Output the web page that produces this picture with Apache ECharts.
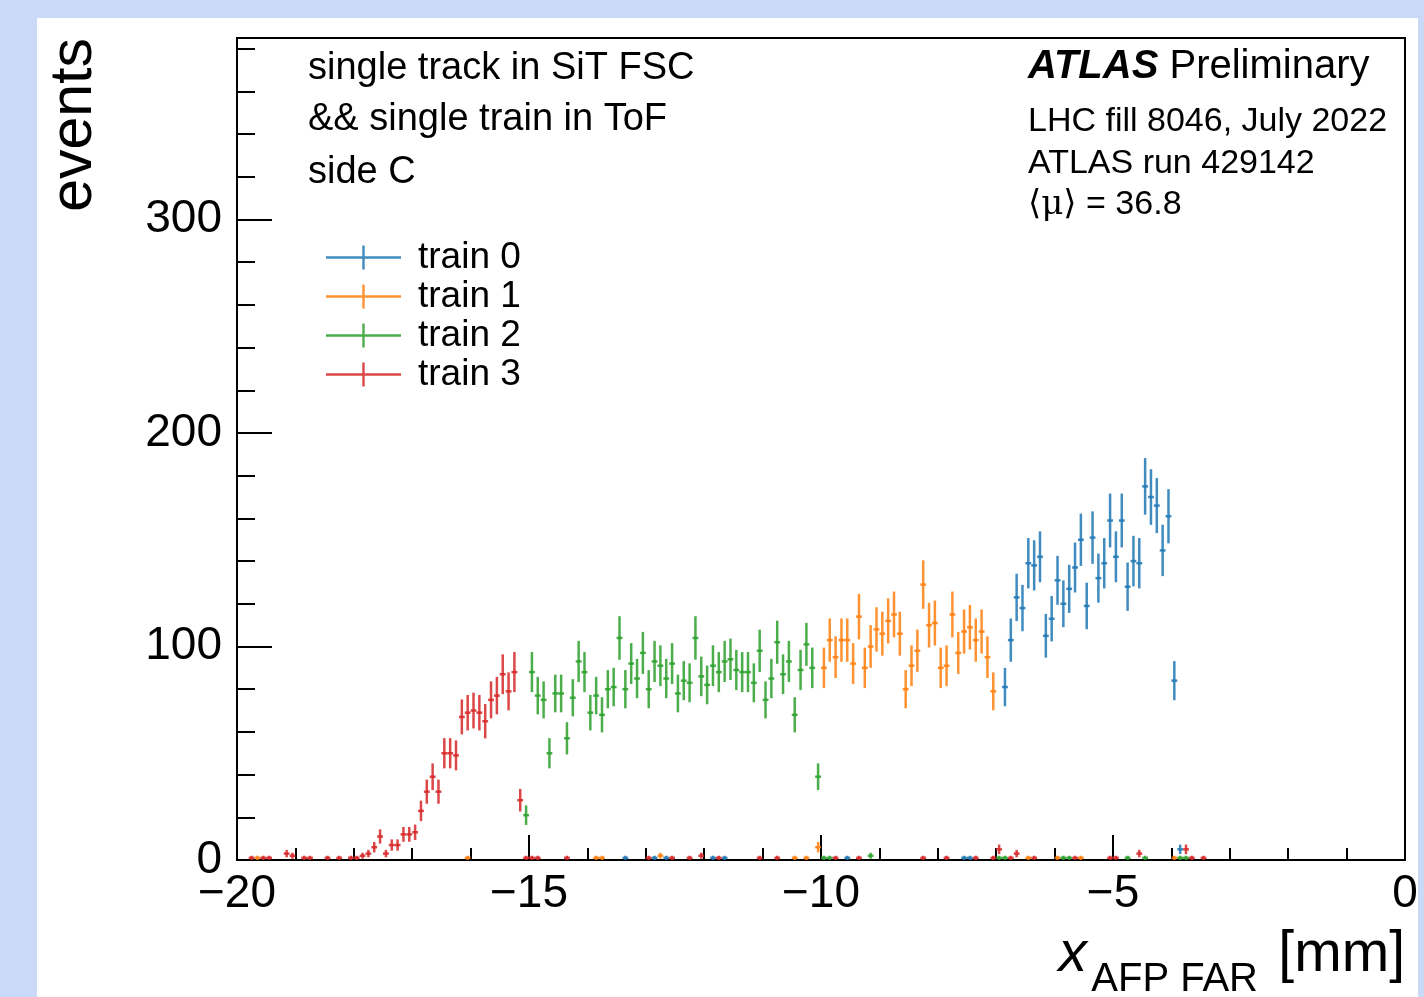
<!DOCTYPE html>
<html>
<head>
<meta charset="utf-8">
<title>AFP ToF trains, side C</title>
<script src="https://cdn.jsdelivr.net/npm/echarts@6/dist/echarts.min.js"></script>
<style>
  html, body { margin: 0; padding: 0; background: #c9d9f7; }
  #chart { position: absolute; left: 37px; top: 18px; width: 1381px; height: 979px; background: #fff; }
</style>
</head>
<body>
<div id="chart"></div>
<script>
// histogram binning of x_AFP FAR
const xMin = -20;
const binWidth = 0.1;

// main run of filled bins per train: index of first bin, then counts
const train0Start = 131;
const train0Counts = [81, 103, 123, 118, 139, 138, 142, 105, 113, 131, 120, 127, 137, 150, 119,
  151, 132, 139, 159, 142, 159, 128, 140, 139, 175, 170, 166, 145, 161, 84];
const train1Start = 100;
const train1Counts = [90, 103, 95, 103, 103, 92, 114, 90, 100, 108, 106, 112, 115, 106, 80,
  91, 98, 129, 110, 111, 90, 91, 115, 97, 107, 109, 103, 107, 95, 79];
const train2Start = 49;
const train2Counts = [21, 88, 77, 75, 50, 78, 78, 57, 76, 93, 88, 69, 77, 68, 80, 81, 104,
  80, 92, 85, 97, 80, 93, 91, 85, 92, 78, 84, 83, 104, 86, 82, 91, 88, 93, 94, 89, 88, 88,
  83, 98, 75, 85, 102, 87, 93, 68, 89, 101, 90, 39];
const train3Start = 21;
const train3Counts = [2, 3, 6, 11, 3, 7, 7, 12, 12, 13, 23, 32, 39, 32, 50, 50, 49, 67, 69,
  70, 69, 65, 75, 77, 87, 79, 88, 28];

// scattered low bins outside the main run: [bin index, count]
const train0Low = [[66, 1], [71, 1], [73, 1], [81, 1], [83, 1], [104, 1], [124, 1], [125, 1], [161, 5]];
const train1Low = [[3, 1], [39, 1], [61, 1], [62, 1], [72, 2], [95, 1], [97, 1], [99, 6],
  [135, 1], [140, 1], [144, 1], [160, 1]];
const train2Low = [[100, 1], [101, 1], [108, 2], [130, 1], [131, 1], [141, 1], [142, 1],
  [152, 1], [155, 1], [161, 1], [162, 1]];
const train3Low = [[2, 1], [4, 1], [5, 1], [8, 3], [9, 2], [11, 1], [12, 1], [15, 1], [17, 1],
  [19, 1], [20, 1], [49, 1], [50, 1], [51, 1], [56, 1], [70, 1], [74, 1], [77, 1], [79, 2],
  [82, 1], [89, 1], [92, 1], [102, 1], [106, 1], [117, 1], [121, 1], [126, 1], [129, 1],
  [130, 5], [132, 1], [133, 3], [136, 1], [143, 1], [149, 1], [150, 1], [154, 3], [162, 5],
  [163, 1], [165, 1]];

const trainNames = ['train 0', 'train 1', 'train 2', 'train 3'];
const trainColors = ['rgba(31,119,180,0.85)', 'rgba(255,127,14,0.85)',
  'rgba(44,160,44,0.85)', 'rgba(214,39,40,0.85)'];

const yTickLabels = [0, 100, 200, 300];

const trains = [
  { start: train0Start, counts: train0Counts, low: train0Low },
  { start: train1Start, counts: train1Counts, low: train1Low },
  { start: train2Start, counts: train2Counts, low: train2Low },
  { start: train3Start, counts: train3Counts, low: train3Low }
];

const font = '"Liberation Sans", Arial, Helvetica, sans-serif';

function binCenter (k) {
  return +(xMin + (k + 0.5) * binWidth).toFixed(2);
}

function buildPoints (t) {
  let pts = t.counts.map((c, i) => [binCenter(t.start + i), c]);
  t.low.forEach(b => pts.push([binCenter(b[0]), b[1]]));
  return pts.sort((a, b) => a[0] - b[0]);
}

// point with poisson error bar and bin-width horizontal bar
function renderErrorBar (params, api) {
  let x = api.value(0);
  let n = api.value(1);
  let err = Math.sqrt(n);
  let hi = api.coord([x, n + err]);
  let lo = api.coord([x, n - err]);
  let left = api.coord([x - binWidth / 2, n]);
  let right = api.coord([x + binWidth / 2, n]);
  let style = { stroke: api.visual('color'), lineWidth: 2.5 };
  return {
    type: 'group',
    children: [
      { type: 'line', shape: { x1: hi[0], y1: hi[1], x2: lo[0], y2: lo[1] }, style: style },
      { type: 'line', shape: { x1: left[0], y1: left[1], x2: right[0], y2: right[1] }, style: style }
    ]
  };
}

function minus (v) {
  return v < 0 ? '\u2212' + Math.abs(v) : String(v);
}

const chart = echarts.init(document.getElementById('chart'));

const option = {
  animation: false,
  backgroundColor: '#fff',
  textStyle: { fontFamily: font },
  grid: {
    left: 200, right: 13, top: 20, bottom: 137,
    show: true, borderColor: '#000', borderWidth: 2,
    outerBoundsMode: 'none'
  },
  legend: {
    orient: 'vertical',
    left: 284,
    top: 215,
    itemGap: 0,
    itemWidth: 87,
    itemHeight: 24,
    icon: 'path://M0,10.8h75v2.4h-75z M36.3,0h2.4v24h-2.4z M86.9,11.9h0.1v0.1h-0.1z',
    itemStyle: { borderWidth: 0 },
    textStyle: { fontSize: 37, color: '#000', fontFamily: font, lineHeight: 39 },
    data: trainNames
  },
  xAxis: {
    type: 'value',
    min: -20,
    max: 0,
    interval: 5,
    axisLine: { show: true, onZero: false, lineStyle: { color: '#000', width: 2 } },
    axisTick: { show: true, inside: true, length: 25, lineStyle: { color: '#000', width: 2 } },
    minorTick: { show: true, splitNumber: 5, length: 12, lineStyle: { color: '#000', width: 2 } },
    splitLine: { show: false },
    axisLabel: { fontSize: 46, color: '#000', margin: 11, fontFamily: font, formatter: minus }
  },
  yAxis: [
    {
      type: 'value',
      min: 0,
      max: 385,
      interval: 100,
      position: 'left',
      axisLine: { show: true, onZero: false, lineStyle: { color: '#000', width: 2 } },
      axisTick: { show: true, inside: true, length: 35, lineStyle: { color: '#000', width: 2 } },
      splitLine: { show: false },
      axisLabel: {
        fontSize: 46, color: '#000', margin: 15, fontFamily: font,
        formatter: v => yTickLabels.indexOf(v) >= 0 ? String(v) : ''
      }
    },
    {
      // minor ticks every 20 events
      type: 'value',
      min: 0,
      max: 385,
      interval: 20,
      position: 'left',
      axisLine: { show: false, onZero: false },
      axisTick: { show: true, inside: true, length: 18, lineStyle: { color: '#000', width: 2 } },
      splitLine: { show: false },
      axisLabel: { show: false }
    }
  ],
  graphic: [
    {
      type: 'text', x: 38, y: 20, rotation: Math.PI / 2,
      style: { text: 'events', font: '59px ' + font, fill: '#000', align: 'right', verticalAlign: 'middle', textAlign: 'right', textVerticalAlign: 'middle' }
    },
    {
      type: 'text', x: 1368, y: 937,
      style: { text: '[mm]', font: '57px ' + font, fill: '#000', align: 'right', verticalAlign: 'middle', textAlign: 'right', textVerticalAlign: 'middle' }
    },
    {
      type: 'text', x: 1221, y: 962,
      style: { text: 'AFP FAR', font: '40px ' + font, fill: '#000', align: 'right', verticalAlign: 'middle', textAlign: 'right', textVerticalAlign: 'middle' }
    },
    {
      type: 'text', x: 1050, y: 937,
      style: { text: 'x', font: 'italic 57px ' + font, fill: '#000', align: 'right', verticalAlign: 'middle', textAlign: 'right', textVerticalAlign: 'middle' }
    },
    {
      type: 'text', x: 271, y: 51,
      style: { text: 'single track in SiT FSC', font: '38px ' + font, fill: '#000', verticalAlign: 'middle', textVerticalAlign: 'middle' }
    },
    {
      type: 'text', x: 271, y: 102,
      style: { text: '&& single train in ToF', font: '38px ' + font, fill: '#000', verticalAlign: 'middle', textVerticalAlign: 'middle' }
    },
    {
      type: 'text', x: 271, y: 155,
      style: { text: 'side C', font: '38px ' + font, fill: '#000', verticalAlign: 'middle', textVerticalAlign: 'middle' }
    },
    {
      type: 'text', x: 991, y: 49,
      style: {
        text: '{b|ATLAS} Preliminary',
        font: '40px ' + font, fill: '#000', verticalAlign: 'middle', textVerticalAlign: 'middle',
        rich: { b: { fontSize: 40, fontWeight: 'bold', fontStyle: 'italic', fontFamily: font, fill: '#000' } }
      }
    },
    {
      type: 'text', x: 991, y: 104,
      style: { text: 'LHC fill 8046, July 2022', font: '34px ' + font, fill: '#000', verticalAlign: 'middle', textVerticalAlign: 'middle' }
    },
    {
      type: 'text', x: 991, y: 146,
      style: { text: 'ATLAS run 429142', font: '34px ' + font, fill: '#000', verticalAlign: 'middle', textVerticalAlign: 'middle' }
    },
    {
      type: 'text', x: 991, y: 187,
      style: {
        text: '{m|\u27E8\u03BC\u27E9} = 36.8',
        font: '34px ' + font, fill: '#000', verticalAlign: 'middle', textVerticalAlign: 'middle',
        rich: { m: { fontSize: 34, fontFamily: '"DejaVu Serif", "Liberation Serif", serif', fill: '#000' } }
      }
    }
  ],
  series: trains.map((t, i) => ({
    name: trainNames[i],
    type: 'custom',
    renderItem: renderErrorBar,
    itemStyle: { color: trainColors[i] },
    encode: { x: 0, y: 1 },
    z: 2 + i,
    data: buildPoints(t)
  }))
};

chart.setOption(option);
</script>
</body>
</html>
